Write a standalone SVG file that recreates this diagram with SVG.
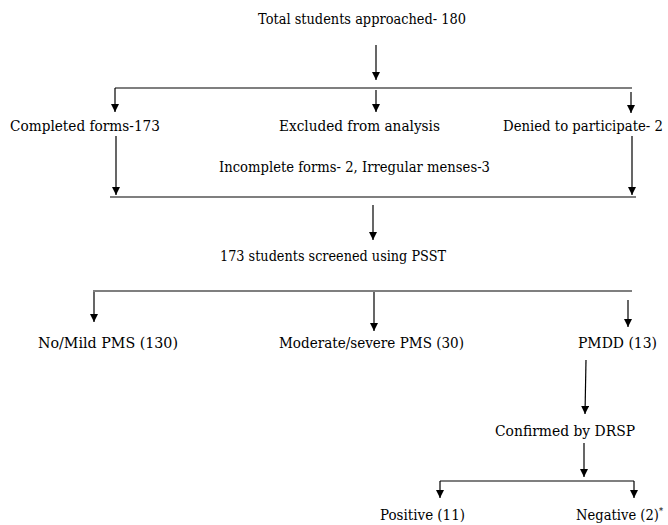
<svg xmlns="http://www.w3.org/2000/svg" width="668" height="525" viewBox="0 0 668 525">
<style>
.t text{font-family:'DejaVu Serif','Liberation Serif',serif;font-size:14.5px;fill:#000}
.c line{stroke:#000;stroke-width:1.2}
.a{marker-end:url(#ah)}
</style>
<defs>
<marker id="ah" viewBox="0 0 10 10" refX="10" refY="5" markerWidth="8" markerHeight="8" markerUnits="userSpaceOnUse" orient="auto">
<path d="M0,0 L10,5 L0,10 z" fill="#000"/>
</marker>
</defs>
<rect width="668" height="525" fill="#fff"/>
<g class="t">
<g id="n-total"><text x="258" y="24" textLength="208" lengthAdjust="spacingAndGlyphs">Total students approached- 180</text></g>
<g id="n-completed"><text x="10" y="131" textLength="150" lengthAdjust="spacingAndGlyphs">Completed forms-173</text></g>
<g id="n-excluded"><text x="279" y="131" textLength="161" lengthAdjust="spacingAndGlyphs">Excluded from analysis</text></g>
<g id="n-denied"><text x="503" y="131" textLength="160" lengthAdjust="spacingAndGlyphs">Denied to participate- 2</text></g>
<g id="n-incomplete"><text x="219" y="172" textLength="271" lengthAdjust="spacingAndGlyphs">Incomplete forms- 2, Irregular menses-3</text></g>
<g id="n-screened"><text x="220" y="261" textLength="226" lengthAdjust="spacingAndGlyphs">173 students screened using PSST</text></g>
<g id="n-mild"><text x="38" y="348" textLength="140" lengthAdjust="spacingAndGlyphs">No/Mild PMS (130)</text></g>
<g id="n-moderate"><text x="279" y="348" textLength="185" lengthAdjust="spacingAndGlyphs">Moderate/severe PMS (30)</text></g>
<g id="n-pmdd"><text x="578" y="348" textLength="79" lengthAdjust="spacingAndGlyphs">PMDD (13)</text></g>
<g id="n-drsp"><text x="495" y="436" textLength="140" lengthAdjust="spacingAndGlyphs">Confirmed by DRSP</text></g>
<g id="n-positive"><text x="380" y="520" textLength="85" lengthAdjust="spacingAndGlyphs">Positive (11)</text></g>
<g id="n-negative"><text x="576" y="520" textLength="87" lengthAdjust="spacingAndGlyphs">Negative (2)<tspan style="font-size:9px" dy="-6">*</tspan></text></g>
</g>
<g id="connectors" class="c">
<line class="a" x1="376" y1="45" x2="376" y2="80"/>
<line x1="115" y1="88" x2="632" y2="88"/>
<line class="a" x1="115" y1="88" x2="115" y2="112"/>
<line class="a" x1="376" y1="90" x2="376" y2="112"/>
<line class="a" x1="631" y1="92" x2="631" y2="113"/>
<line class="a" x1="116" y1="136" x2="116" y2="195"/>
<line class="a" x1="632" y1="136" x2="632" y2="195"/>
<line x1="110" y1="197" x2="636" y2="197"/>
<line class="a" x1="373" y1="205" x2="373" y2="240"/>
<line x1="93" y1="291" x2="632" y2="291"/>
<line class="a" x1="94" y1="292" x2="94" y2="322"/>
<line class="a" x1="374" y1="292" x2="374" y2="331"/>
<line class="a" x1="628" y1="300" x2="628" y2="327"/>
<line class="a" x1="586" y1="360" x2="585" y2="414"/>
<line class="a" x1="584" y1="443" x2="584" y2="477"/>
<line x1="440" y1="481" x2="634" y2="481"/>
<line class="a" x1="440" y1="481" x2="440" y2="498"/>
<line class="a" x1="634" y1="481" x2="634" y2="498"/>
</g>
</svg>
